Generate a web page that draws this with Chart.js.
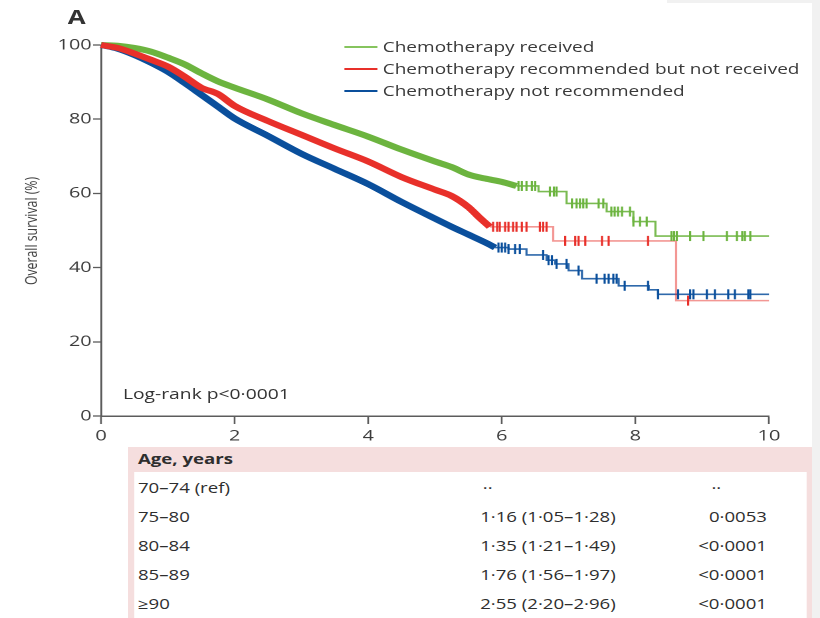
<!DOCTYPE html>
<html>
<head>
<meta charset="utf-8">
<title>Overall survival by chemotherapy group</title>
<script src="https://cdn.jsdelivr.net/npm/chart.js@4.4.1/dist/chart.umd.min.js"></script>
<style>
  html, body { margin: 0; padding: 0; background: #fff; }
  body { width: 820px; height: 618px; overflow: hidden; position: relative; font-family: "Open Sans", sans-serif; color: #333; }
  /* the figure is laid out narrow and stretched sideways, like the printed panel */
  #page { position: absolute; left: 0; top: 0; width: 617px; height: 618px; transform: scaleX(1.329); transform-origin: 0 0; }
  #survivalChart { position: absolute; left: 0; top: 0; }
  .panel-label { position: absolute; left: 51px; top: 3px; font-size: 19.5px; font-weight: 700; color: #333; }
  .y-title { position: absolute; left: -51px; top: 222px; width: 150px; text-align: center; font-size: 12.3px; line-height: 18px; color: #3c3c3c; transform: rotate(-90deg); }
  .legend { position: absolute; left: 259px; top: 36px; font-size: 14.3px; line-height: 22px; color: #3a3a3a; }
  .legend div { position: relative; padding-left: 29px; white-space: nowrap; }
  .legend .swatch { position: absolute; left: 0; top: 10px; width: 25px; height: 0; border-top-width: 2px; border-top-style: solid; }
  .logrank { position: absolute; left: 92.5px; top: 384px; font-size: 14.5px; color: #333; }
  .hr-table { position: absolute; left: 96.3px; top: 447px; width: 514.7px; height: 171px; background: #f5dede; font-size: 14px; color: #2e2e2e; }
  .hr-body { position: absolute; left: 5px; right: 4px; top: 25px; bottom: 0; background: #fff; }
  .hr-head { position: absolute; left: 7.5px; top: 2px; line-height: 20px; font-weight: 700; }
  .hr-row span { position: absolute; line-height: 20px; white-space: nowrap; }
  .edge-right { position: absolute; left: 812px; top: 0; width: 8px; height: 618px; background: #f1f1f1; }
  .edge-top { position: absolute; left: 667px; top: 0; width: 145px; height: 3px; background: #f1f1f1; }
</style>
</head>
<body>
<div id="page">
  <canvas id="survivalChart" width="617" height="618"></canvas>
  <div class="panel-label">A</div>
  <div class="y-title">Overall survival (%)</div>
  <div class="legend" id="legend"></div>
  <div class="logrank">Log-rank p&lt;0·0001</div>
  <div class="hr-table" id="hrTable">
    <div class="hr-body"></div>
    <div class="hr-head">Age, years</div>
  </div>
</div>
<div class="edge-right"></div>
<div class="edge-top"></div>

<script>
// Kaplan-Meier curves, years since diagnosis vs overall survival (%)
// dense early part (drawn thick, censor marks merge into the line)
const receivedTimes = [0, 0.25, 0.5, 0.75, 1, 1.25, 1.5, 1.75, 2, 2.5, 3, 3.5, 4, 4.5, 5, 5.25, 5.5, 5.75, 6.0, 6.22];
const receivedSurvival = [100, 99.8, 99.2, 98.2, 96.6, 94.8, 92.4, 90.2, 88.5, 85.3, 81.6, 78.4, 75.3, 71.8, 68.6, 67.1, 65.1, 64.0, 63.1, 62.0];
const notReceivedTimes = [0, 0.25, 0.5, 0.75, 1, 1.25, 1.5, 1.75, 2, 2.5, 3, 3.5, 4, 4.5, 5, 5.25, 5.5, 5.67, 5.82];
const notReceivedSurvival = [100, 99.2, 97.7, 96.0, 94.2, 91.5, 88.5, 86.8, 83.6, 79.5, 75.8, 72.1, 68.6, 64.4, 61.0, 59.3, 56.3, 53.4, 51.0];
const notRecommendedTimes = [0, 0.25, 0.5, 0.75, 1, 1.25, 1.5, 1.75, 2, 2.5, 3, 3.5, 4, 4.5, 5, 5.25, 5.5, 5.75, 5.9];
const notRecommendedSurvival = [100, 99.0, 97.3, 95.2, 92.8, 89.8, 86.6, 83.4, 80.2, 75.5, 70.7, 66.6, 62.5, 57.7, 53.2, 51.0, 48.9, 46.8, 45.4];

// sparse late part, drawn as steps
const receivedTailTimes = [6.22, 6.55, 6.97, 7.57, 7.97, 8.3, 10];
const receivedTailSurvival = [62.0, 60.5, 57.3, 55.1, 52.4, 48.5, 48.5];
const notReceivedTailTimes = [5.82, 6.77, 8.61, 10];
const notReceivedTailSurvival = [51.0, 47.2, 31.1, 31.1];
const notRecommendedTailTimes = [5.9, 6.1, 6.37, 6.67, 6.8, 7.0, 7.2, 7.75, 8.2, 8.34, 10];
const notRecommendedTailSurvival = [45.4, 45.0, 43.4, 42.0, 41.0, 39.2, 37.0, 35.1, 34.0, 32.8, 32.8];

// censoring times
const receivedCensored = [6.25, 6.30, 6.37, 6.45, 6.50, 6.72, 6.78, 6.82, 7.05, 7.12, 7.17, 7.22, 7.27, 7.45, 7.52, 7.64, 7.69, 7.74, 7.80, 7.92, 7.97, 8.07, 8.17, 8.54, 8.58, 8.62, 8.82, 9.02, 9.37, 9.52, 9.60, 9.64, 9.72];
const notReceivedCensored = [5.87, 5.93, 5.97, 6.05, 6.10, 6.17, 6.22, 6.30, 6.37, 6.57, 6.62, 6.67, 6.95, 7.10, 7.15, 7.25, 7.50, 7.60, 8.19, 8.79];
const notRecommendedCensored = [5.95, 6.0, 6.05, 6.10, 6.20, 6.27, 6.62, 6.70, 6.75, 6.82, 6.97, 7.15, 7.42, 7.54, 7.60, 7.67, 7.72, 7.84, 8.19, 8.34, 8.64, 8.82, 8.87, 9.07, 9.19, 9.39, 9.49, 9.69, 9.72];

const seriesNames = ['Chemotherapy received', 'Chemotherapy recommended but not received', 'Chemotherapy not recommended'];
const seriesColors = ['#6cb43f', '#e8302a', '#0a4f9c'];
const tailColors = ['rgba(108,180,63,0.9)', 'rgba(232,48,42,0.5)', 'rgba(10,79,156,0.85)'];
const legendColors = ['rgb(134,196,94)', 'rgb(232,48,42)', 'rgb(10,79,156)'];

const xTicks = [0, 2, 4, 6, 8, 10];
const yTicks = [0, 20, 40, 60, 80, 100];

// hazard ratio table under the plot
const ageGroups = ['70–74 (ref)', '75–80', '80–84', '85–89', '≥90'];
const hazardRatios = ['··', '1·16 (1·05–1·28)', '1·35 (1·21–1·49)', '1·76 (1·56–1·97)', '2·55 (2·20–2·96)'];
const pValues = ['··', '0·0053', '<0·0001', '<0·0001', '<0·0001'];

function toPoints(xs, ys) {
    return xs.map((x, i) => ({ x: x, y: ys[i] }));
}

function survivalAt(times, values, t) {
    let s = values[0];
    for (let i = 0; i < times.length; i++) {
        if (times[i] <= t) s = values[i];
    }
    return s;
}

function censorPoints(censored, times, values) {
    return censored.map(t => ({ x: t, y: survivalAt(times, values, t) }));
}

const thick = [
    [receivedTimes, receivedSurvival],
    [notReceivedTimes, notReceivedSurvival],
    [notRecommendedTimes, notRecommendedSurvival],
];
const tails = [
    [receivedTailTimes, receivedTailSurvival],
    [notReceivedTailTimes, notReceivedTailSurvival],
    [notRecommendedTailTimes, notRecommendedTailSurvival],
];
const censors = [receivedCensored, notReceivedCensored, notRecommendedCensored];
// red sits above blue where they touch
const thickOrder = [4, 2, 3];

const datasets = [];
for (let i = 0; i < 3; i++) {
    datasets.push({
        label: seriesNames[i],
        data: toPoints(thick[i][0], thick[i][1]),
        borderColor: seriesColors[i],
        borderWidth: 6,
        pointRadius: 0,
        cubicInterpolationMode: 'monotone',
        clip: false,
        order: thickOrder[i],
    });
    datasets.push({
        label: seriesNames[i] + ' (late)',
        data: toPoints(tails[i][0], tails[i][1]),
        borderColor: tailColors[i],
        borderWidth: 1.6,
        pointRadius: 0,
        stepped: true,
        clip: false,
        order: 1,
    });
    datasets.push({
        label: seriesNames[i] + ' (censored)',
        data: censorPoints(censors[i], tails[i][0], tails[i][1]),
        showLine: false,
        pointStyle: 'line',
        rotation: 90,
        pointRadius: 5,
        pointBorderWidth: 1.6,
        pointBorderColor: seriesColors[i],
        pointBackgroundColor: seriesColors[i],
        clip: false,
        order: 0,
    });
}

const axisColor = '#5c5c5c';
Chart.defaults.font.family = '"Open Sans", sans-serif';

const ctx = document.getElementById('survivalChart').getContext('2d');
const survivalChart = new Chart(ctx, {
    type: 'line',
    data: { datasets: datasets },
    options: {
        responsive: false,
        animation: false,
        devicePixelRatio: 2,
        layout: { padding: { left: 0, top: 45, right: 38.4, bottom: 0 } },
        plugins: {
            legend: { display: false },
            tooltip: { enabled: false },
        },
        scales: {
            x: {
                type: 'linear',
                min: 0,
                max: 10,
                afterBuildTicks: scale => { scale.ticks = xTicks.map(v => ({ value: v })); },
                afterFit: scale => { scale.height = 202; },
                border: { display: true, color: axisColor, width: 1.5 },
                grid: { display: true, drawOnChartArea: false, drawTicks: true, tickLength: 8, tickColor: axisColor, tickWidth: 1.3 },
                ticks: { color: '#3c3c3c', font: { size: 15 }, padding: 3, maxRotation: 0 },
            },
            y: {
                type: 'linear',
                min: 0,
                max: 100,
                afterBuildTicks: scale => { scale.ticks = yTicks.map(v => ({ value: v })); },
                afterFit: scale => { scale.width = 76; },
                border: { display: true, color: axisColor, width: 1.5 },
                grid: { display: true, drawOnChartArea: false, drawTicks: true, tickLength: 6, tickColor: axisColor, tickWidth: 1.3 },
                ticks: { color: '#3c3c3c', font: { size: 15 }, padding: 1 },
            },
        },
    },
});

// legend
const legend = document.getElementById('legend');
seriesNames.forEach((name, i) => {
    const row = document.createElement('div');
    row.innerHTML = `<span class="swatch" style="border-top-color:${legendColors[i]}"></span>${name}`;
    legend.appendChild(row);
});

// table rows
const table = document.getElementById('hrTable');
const rowTops = [31, 60, 89, 118, 147];
ageGroups.forEach((group, i) => {
    const row = document.createElement('div');
    row.className = 'hr-row';
    const hrLeft = hazardRatios[i] === '··' ? 267 : 265;
    const pCell = pValues[i] === '··'
        ? `<span style="left:439px;top:${rowTops[i]}px">${pValues[i]}</span>`
        : `<span style="right:${514.7 - 480.8}px;top:${rowTops[i]}px">${pValues[i].replace('<', '&lt;')}</span>`;
    row.innerHTML =
        `<span style="left:7.5px;top:${rowTops[i]}px">${group}</span>` +
        `<span style="left:${hrLeft}px;top:${rowTops[i]}px">${hazardRatios[i]}</span>` +
        pCell;
    table.appendChild(row);
});
</script>
</body>
</html>
